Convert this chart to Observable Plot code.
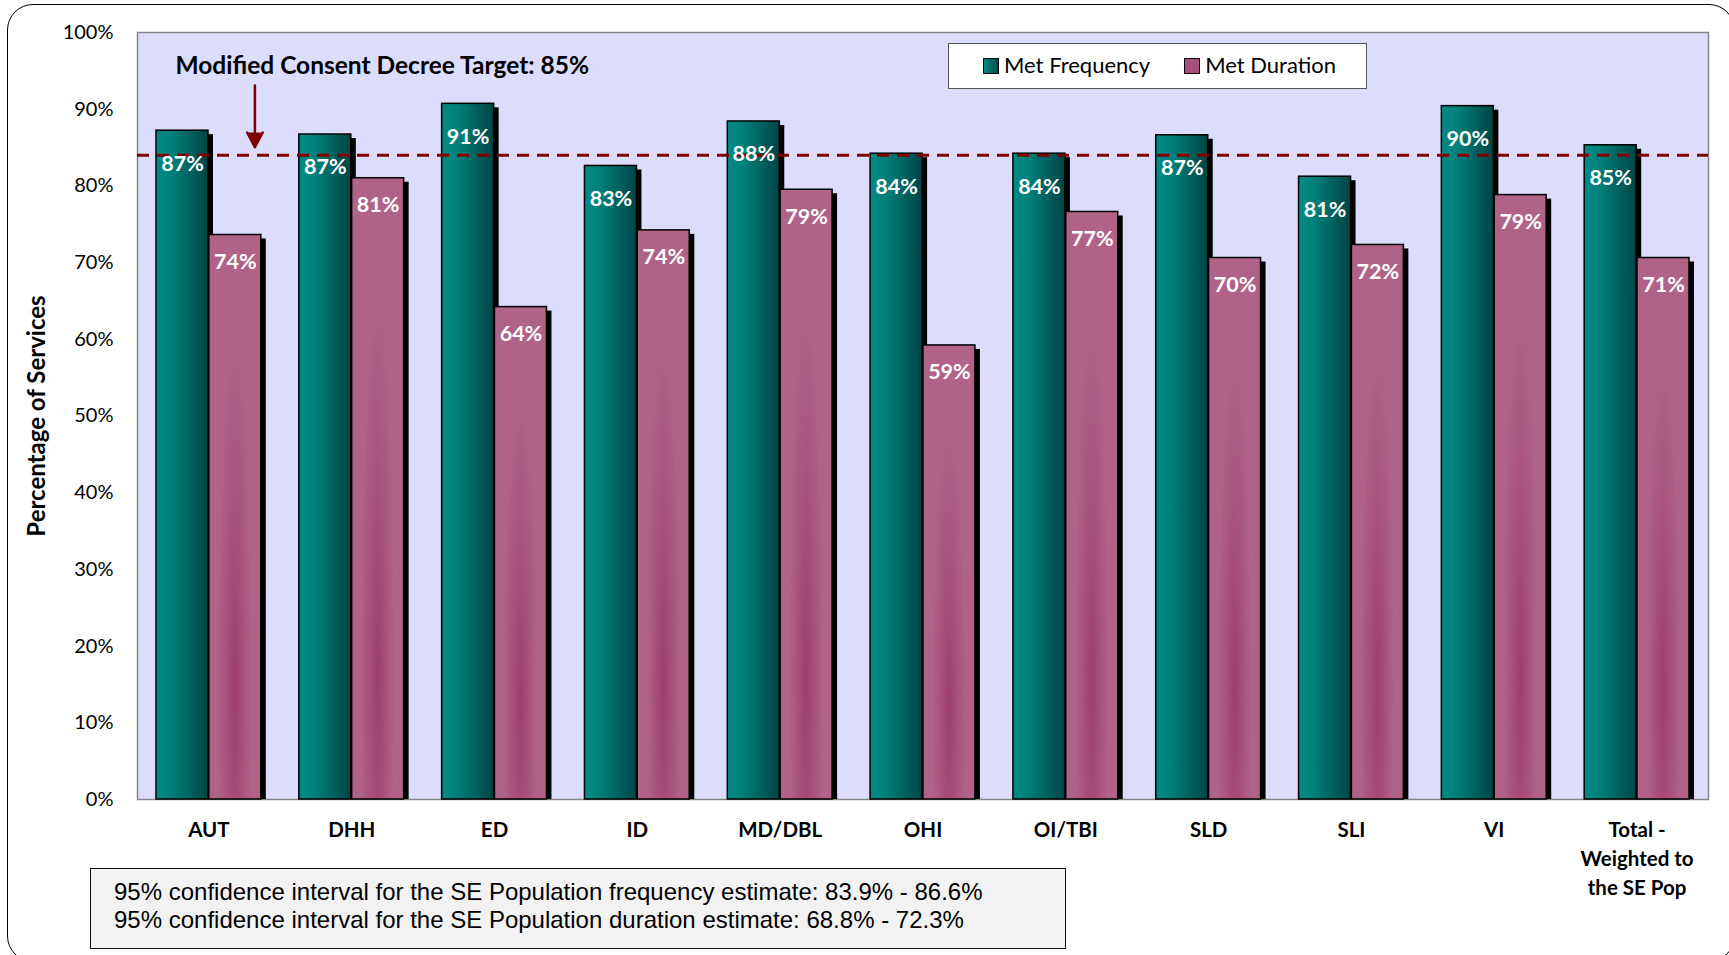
<!DOCTYPE html>
<html>
<head>
<meta charset="utf-8">
<script src="https://cdn.jsdelivr.net/npm/d3@7"></script>
<script src="https://cdn.jsdelivr.net/npm/@observablehq/plot@0.6"></script>
<style>
  html, body { margin: 0; padding: 0; background: #fff; }
  #wrap { position: relative; width: 1729px; height: 955px; overflow: hidden; font-family: Lato, "Open Sans", sans-serif; }
  #outer { position: absolute; left: 7px; top: 4px; width: 1728px; height: 958px; border: 1.5px solid #000; border-radius: 26px; box-sizing: border-box; }
  #chart { position: absolute; left: 0; top: 0; }
  #legend { position: absolute; left: 948px; top: 43px; width: 419px; height: 46px; box-sizing: border-box; background: #fff; border: 1.5px solid #555; display: flex; align-items: center; font-family: Lato, sans-serif; font-size: 22px; line-height: 22px; color: #000; padding-bottom: 3px; }
  #legend .item { display: flex; align-items: center; }
  #legend .sw { width: 16px; height: 16px; border: 1.5px solid #000; box-sizing: border-box; margin-right: 5px; margin-top: 2px; }
  #ci { position: absolute; left: 90px; top: 868px; width: 976px; height: 81px; box-sizing: border-box; background: #f2f2f2; border: 1.5px solid #111; font-family: "Liberation Sans", Arial, sans-serif; font-size: 24px; line-height: 27.5px; padding: 9px 0 0 23px; color: #000; white-space: nowrap; }
</style>
</head>
<body>
<div id="wrap">
  <div id="outer"></div>
  <div id="chart"></div>
  <div id="legend">
    <div class="item" style="margin-left:34px"><div class="sw" style="background:linear-gradient(90deg,#008a84,#004b4b)"></div><span>Met Frequency</span></div>
    <div class="item" style="margin-left:34px"><div class="sw" style="background:#a84f7c"></div><span>Met Duration</span></div>
  </div>
  <div id="ci">95% confidence interval for the SE Population frequency estimate: 83.9% - 86.6%<br>95% confidence interval for the SE Population duration estimate: 68.8% - 72.3%</div>
</div>
<script>
const categories = ["AUT", "DHH", "ED", "ID", "MD/DBL", "OHI", "OI/TBI", "SLD", "SLI", "VI", "Total -\nWeighted to\nthe SE Pop"];
const metFrequency = [87.2, 86.7, 90.7, 82.6, 88.4, 84.2, 84.2, 86.6, 81.2, 90.4, 85.3];
const metDuration  = [73.6, 81.0, 64.2, 74.2, 79.5, 59.2, 76.6, 70.6, 72.3, 78.8, 70.6];
const freqLabels = ["87%", "87%", "91%", "83%", "88%", "84%", "84%", "87%", "81%", "90%", "85%"];
const durLabels  = ["74%", "81%", "64%", "74%", "79%", "59%", "77%", "70%", "72%", "79%", "71%"];
const yTicks = [0, 10, 20, 30, 40, 50, 60, 70, 80, 90, 100];
const target = 84;
const targetLabel = "Modified Consent Decree Target: 85%";
const yTitle = "Percentage of Services";

const W = 1729, H = 955;
const mL = 137, mR = 21, mT = 32, mB = H - 799;
const step = (W - mL - mR) / categories.length;
const pad = 19, bw = 52;
const off = step / 2 - pad - bw / 2;

const freq = categories.map((c, i) => ({cat: c, value: metFrequency[i], label: freqLabels[i]}));
const dur = categories.map((c, i) => ({cat: c, value: metDuration[i], label: durLabels[i]}));

const svg = Plot.plot({
  width: W, height: H,
  marginLeft: mL, marginRight: mR, marginTop: mT, marginBottom: mB,
  style: {fontFamily: "Lato, sans-serif", fontSize: "20px", color: "#000", background: "transparent", overflow: "visible"},
  x: {domain: categories, padding: 0, round: false, axis: null},
  y: {domain: [0, 100], ticks: yTicks, tickFormat: d => d + "%", tickSize: 0, tickPadding: 24, label: null},
  marks: [
    Plot.frame({fill: "#dcdcfd", stroke: "#858585", strokeWidth: 1.5}),
    Plot.barY(freq, {x: "cat", y: "value", fill: "#000", insetLeft: pad, insetRight: step - pad - bw, dx: 5, dy: 4, insetBottom: 4}),
    Plot.barY(freq, {x: "cat", y: "value", fill: "url(#gFreq)", stroke: "#000", strokeWidth: 1.5, insetLeft: pad, insetRight: step - pad - bw}),
    Plot.barY(dur, {x: "cat", y: "value", fill: "#000", insetLeft: step - pad - bw, insetRight: pad, dx: 5, dy: 4, insetBottom: 4}),
    Plot.barY(dur, {x: "cat", y: "value", fill: "url(#gDur)", stroke: "#000", strokeWidth: 1.5, insetLeft: step - pad - bw, insetRight: pad}),
    Plot.ruleY([target], {stroke: "#800000", strokeWidth: 3, strokeDasharray: "12,8"}),
    Plot.text(freq, {x: "cat", y: "value", text: "label", dx: -off, dy: 33, fill: "#fff", fontWeight: "bold", fontSize: 21.5}),
    Plot.text(dur, {x: "cat", y: "value", text: "label", dx: off, dy: 27, fill: "#fff", fontWeight: "bold", fontSize: 21.5}),
    Plot.text(categories, {x: d => d, text: d => d, frameAnchor: "bottom", lineAnchor: "top", dy: 17, lineHeight: 1.42, fontWeight: "bold", fontSize: 20.5, fill: "#000"}),
    Plot.text([yTitle], {text: d => d, frameAnchor: "left", textAnchor: "middle", dx: -100, rotate: -90, fontWeight: "bold", fontSize: 24, fill: "#000"}),
    Plot.text([targetLabel], {text: d => d, frameAnchor: "top-left", textAnchor: "start", dx: 38, dy: 24, fontWeight: "bold", fontSize: 24.5, fill: "#000"}),
    Plot.arrow([{x: categories[0], y1: 93.1, y2: target}], {x: "x", y1: "y1", y2: "y2", dx: 46, insetEnd: 8, stroke: "#800000", fill: "#800000", strokeWidth: 2.5, headLength: 10, headAngle: 56})
  ]
});

svg.insertAdjacentHTML("afterbegin", `<defs>
  <linearGradient id="gFreq" x1="0" y1="0" x2="1" y2="0">
    <stop offset="0" stop-color="#008a84"/>
    <stop offset="0.3" stop-color="#00807b"/>
    <stop offset="1" stop-color="#004444"/>
  </linearGradient>
  <radialGradient id="gDur" cx="0.5" cy="0.8" r="0.6" fx="0.5" fy="0.8" gradientTransform="translate(0.5 0.8) scale(0.55 1) translate(-0.5 -0.8)">
    <stop offset="0" stop-color="#9e3f6e"/>
    <stop offset="1" stop-color="#b06387"/>
  </radialGradient>
</defs>`);

document.getElementById("chart").appendChild(svg);
</script>
</body>
</html>
